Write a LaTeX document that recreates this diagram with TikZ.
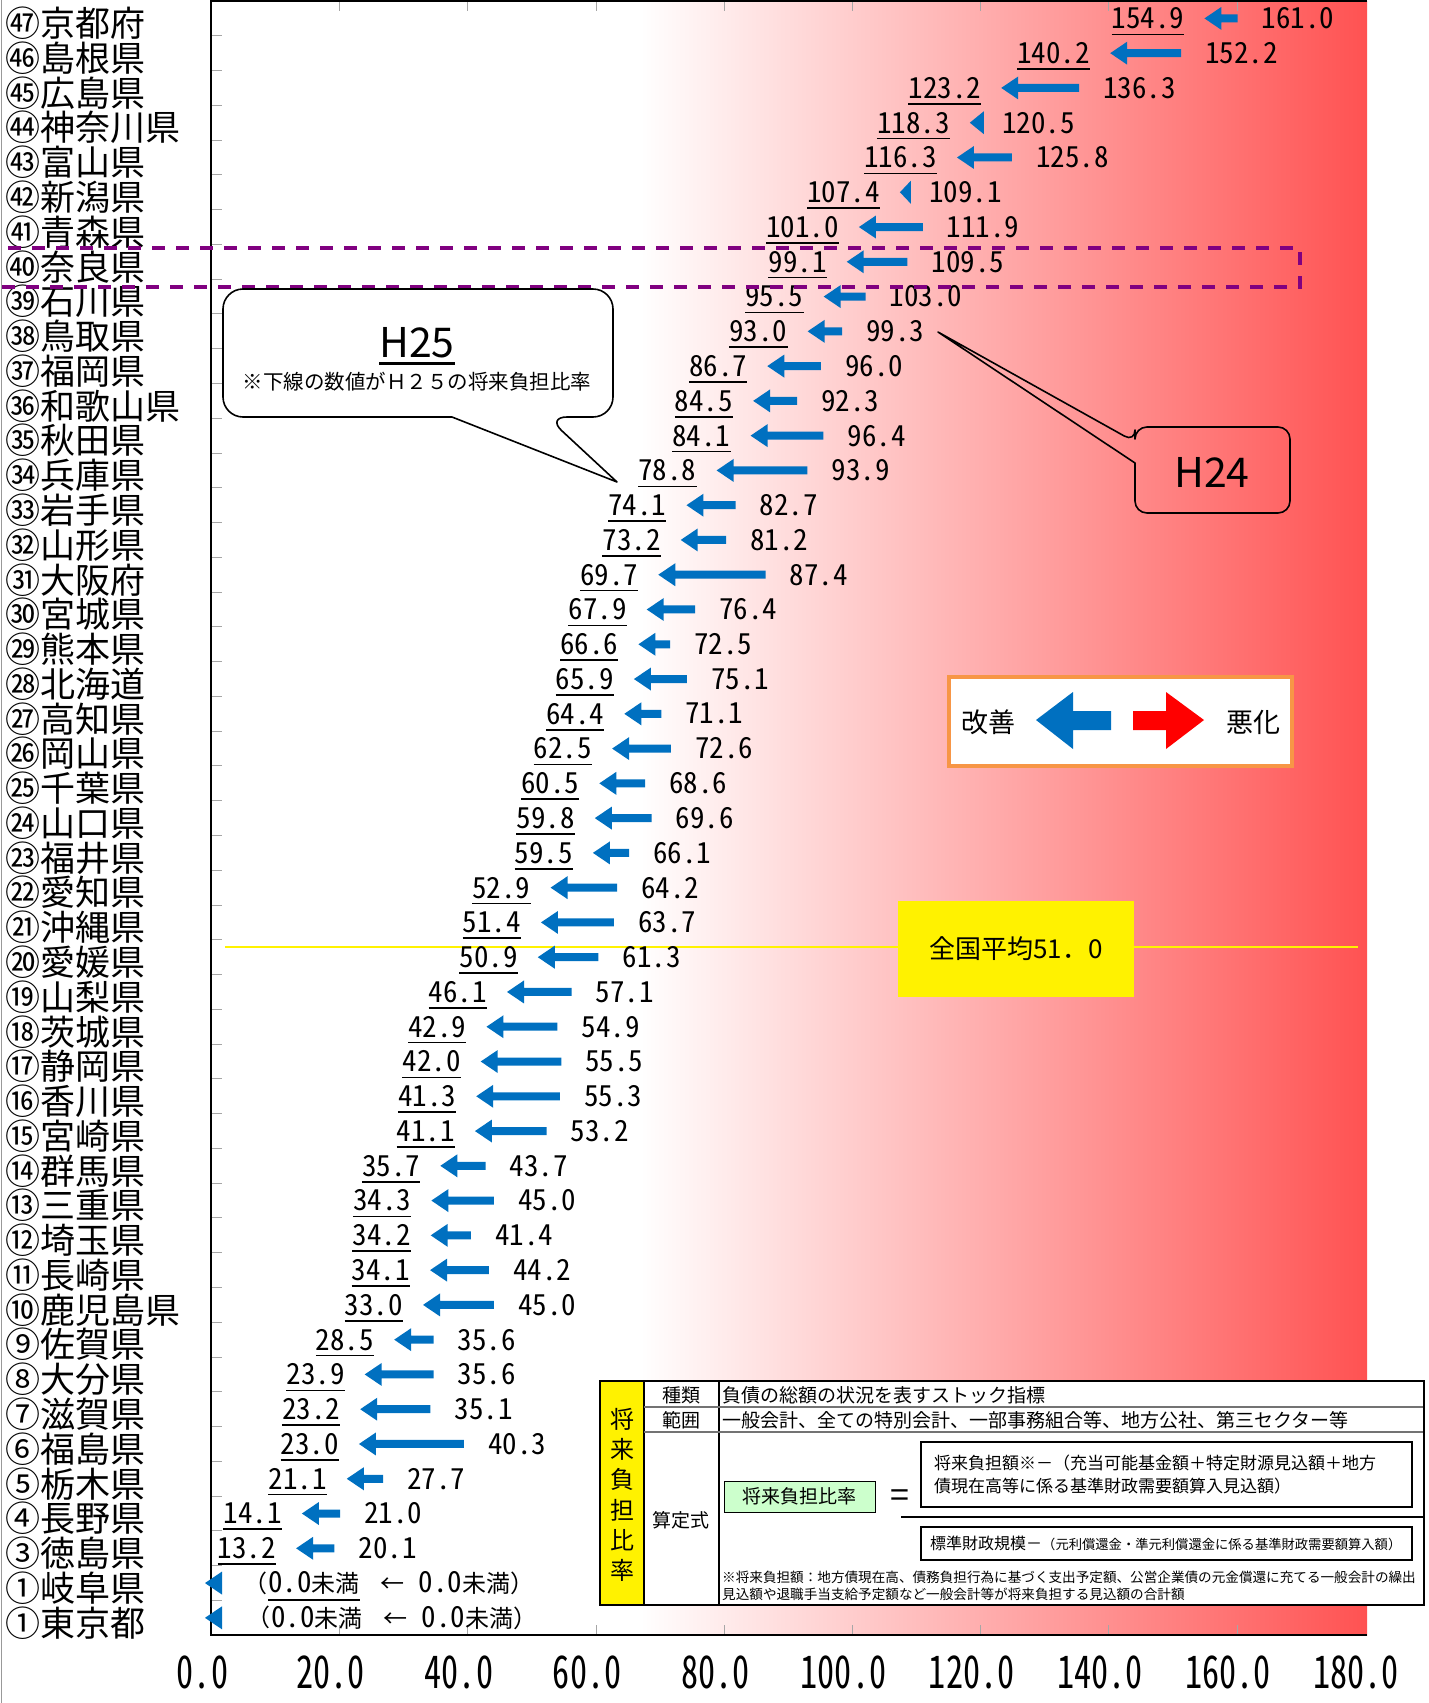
\documentclass[tikz,border=0pt]{standalone}
\usepackage{fontspec}
\setmainfont{Noto Sans CJK JP}
\newfontfamily\numfont[RawFeature=+hwid]{Noto Sans CJK JP}
\newfontfamily\axfont[RawFeature=+hwid, FakeStretch=0.76]{Noto Sans CJK JP}

\definecolor{arrblue}{RGB}{0,112,192}
\definecolor{barred}{RGB}{255,82,82}
\definecolor{hlpurple}{RGB}{128,0,128}
\definecolor{lgorange}{RGB}{247,150,70}
\definecolor{fgreen}{RGB}{204,255,204}

% tip x, tail x, y
\newcommand\leftarr[3]{%
  \pgfmathsetmacro\hx{min(#1+17,#2)}
  \fill[arrblue] (#1,#3) -- (\hx,#3-11.5) -- (\hx,#3-4) -- (#2,#3-4) -- (#2,#3+4) -- (\hx,#3+4) -- (\hx,#3+11.5) -- cycle;}

\begin{document}
\begin{tikzpicture}[x=1pt, y=-1pt,
    pref/.style={anchor=west, inner sep=0pt, font=\fontsize{35}{35}\selectfont},
    newval/.style={inner sep=0pt, font={\numfont\fontsize{29}{29}\selectfont}},
    oldval/.style={inner sep=0pt, font={\numfont\fontsize{29}{29}\selectfont}},
    uline/.style={line width=1.6pt},
    tickc/.style={black!35, line width=1pt},
    tbtxt/.style={inner sep=0pt, font=\fontsize{19}{19}\selectfont},
    callout/.style={line width=1.6pt, line join=round}]

    \useasboundingbox (0,0) rectangle (1429,1703);
    \draw[black!40, line width=1pt] (1,0) -- (1,1703);

    % plot area
    \shade[left color=white, right color=barred] (640,1) rectangle (1367,1635);
    \foreach \k in {1, 2, ..., 46} {
        \draw[tickc] (211,{1+34.77*\k}) -- (222,{1+34.77*\k});
    }
    \foreach \k in {1, 2, ..., 8} {
        \draw[tickc] ({211.5+128.2*\k},1) -- ({211.5+128.2*\k},11);
        \draw[tickc] ({211.5+128.2*\k},1635) -- ({211.5+128.2*\k},1625);
    }
    \draw[line width=1.4pt] (1367,1) -- (211,1) -- (211,1635) -- (1367,1635);
    \foreach \v [count=\k from 0] in {0.0, 20.0, 40.0, 60.0, 80.0, 100.0, 120.0, 140.0, 160.0, 180.0} {
        \node[inner sep=0pt, font={\axfont\fontsize{45}{45}\selectfont}] (ax\k) at ({202.5+128.2*\k},1672) {\v};
    }

    \draw[yellow, line width=2.5pt] (225,947) -- (1358,947);

    \foreach \nm/\a/\b [count=\i from 0] in {㊼京都府/154.9/161.0, ㊻島根県/140.2/152.2, ㊺広島県/123.2/136.3,
        ㊹神奈川県/118.3/120.5, ㊸富山県/116.3/125.8, ㊷新潟県/107.4/109.1, ㊶青森県/101.0/111.9,
        ㊵奈良県/99.1/109.5, ㊴石川県/95.5/103.0, ㊳鳥取県/93.0/99.3, ㊲福岡県/86.7/96.0,
        ㊱和歌山県/84.5/92.3, ㉟秋田県/84.1/96.4, ㉞兵庫県/78.8/93.9, ㉝岩手県/74.1/82.7,
        ㉜山形県/73.2/81.2, ㉛大阪府/69.7/87.4, ㉚宮城県/67.9/76.4, ㉙熊本県/66.6/72.5,
        ㉘北海道/65.9/75.1, ㉗高知県/64.4/71.1, ㉖岡山県/62.5/72.6, ㉕千葉県/60.5/68.6,
        ㉔山口県/59.8/69.6, ㉓福井県/59.5/66.1, ㉒愛知県/52.9/64.2, ㉑沖縄県/51.4/63.7,
        ⑳愛媛県/50.9/61.3, ⑲山梨県/46.1/57.1, ⑱茨城県/42.9/54.9, ⑰静岡県/42.0/55.5,
        ⑯香川県/41.3/55.3, ⑮宮崎県/41.1/53.2, ⑭群馬県/35.7/43.7, ⑬三重県/34.3/45.0,
        ⑫埼玉県/34.2/41.4, ⑪長崎県/34.1/44.2, ⑩鹿児島県/33.0/45.0, ⑨佐賀県/28.5/35.6,
        ⑧大分県/23.9/35.6, ⑦滋賀県/23.2/35.1, ⑥福島県/23.0/40.3, ⑤栃木県/21.1/27.7,
        ④長野県/14.1/21.0, ③徳島県/13.2/20.1} {
        \pgfmathsetmacro\yy{18.4+34.77*\i}
        \pgfmathsetmacro\xa{211.5+6.41*\a}
        \pgfmathsetmacro\xb{211.5+6.41*\b}
        \pgfmathsetmacro\xt{(\xb-\xa>30) ? \xb-6 : \xb}
        \node[pref] (pf\i) at (5,{\yy+5}) {\nm};
        \leftarr{\xa}{\xt}{\yy}
        \node[newval, anchor=east] (h\i) at ({\xa-20},\yy) {\a};
        \draw[uline] ([yshift=-5pt]h\i.south west) -- ([yshift=-5pt]h\i.south east);
        \node[oldval, anchor=west] (g\i) at ({\xb+18},\yy) {\b};
    }
    \foreach \nm/\i/\dx in {①岐阜県/45/0, ①東京都/46/3} {
        \pgfmathsetmacro\yy{18.4+34.77*\i}
        \node[pref] (pf\i) at (5,{\yy+5}) {\nm};
        \leftarr{205}{222}{\yy}
        \node[oldval, anchor=east] (q\i) at (268+\dx,\yy) {{\rmfamily\fontsize{24}{24}\selectfont （}};
        \node[newval, anchor=west] (h\i) at (268+\dx,\yy) {0.0{\rmfamily\fontsize{24}{24}\selectfont 未満}};
        \draw[uline] ([yshift=-5pt]h\i.south west) -- ([yshift=-5pt]h\i.south east);
        \node[oldval, anchor=west] (g\i) at (380+\dx,\yy) {{\rmfamily\fontsize{24}{24}\selectfont ←}\ 0.0{\rmfamily\fontsize{24}{24}\selectfont 未満）}};
    }

    \draw[hlpurple, line width=3.5pt, dash pattern=on 13pt off 11pt] (8,248) -- (1300,248) -- (1300,287) -- (0,287);

    % callouts
    \filldraw[callout, fill=white] (452,417) [rounded corners=20pt] -- (223,417) -- (223,289) -- (613,289) -- (613,417) -- (547,417) [sharp corners] -- (617,482) -- cycle;
    \node[inner sep=0pt, font=\fontsize{41}{41}\selectfont] (h25) at (417,343) {H25};
    \draw[line width=3pt] ([yshift=-5pt]h25.south west) -- ([yshift=-5pt]h25.south east);
    \node[inner sep=0pt, font=\fontsize{20.5}{20.5}\selectfont] (h25n) at (417,382) {※下線の数値がＨ２５の将来負担比率};
    \draw[callout] (1135,463) [rounded corners=12pt] -- (1135,513) -- (1290,513) -- (1290,427) -- (1135,427) -- (1135,442) [sharp corners] -- (938,332) -- cycle;
    \node[inner sep=0pt, font=\fontsize{41}{41}\selectfont] (h24) at (1212,472) {H24};

    % legend
    \node[draw=lgorange, line width=4pt, fill=white, minimum width=343pt, minimum height=89pt] (lgd) at (1120.5,721.5) {};
    \node[inner sep=0pt, font=\fontsize{27}{27}\selectfont] (kz) at (988,722) {改善};
    \node[inner sep=0pt, font=\fontsize{27}{27}\selectfont] (ak) at (1253,722) {悪化};
    \fill[arrblue] (1036,720) -- (1073,692) -- (1073,711) -- (1111,711) -- (1111,730) -- (1073,730) -- (1073,749) -- cycle;
    \fill[red] (1204,720) -- (1166,692) -- (1166,711) -- (1133,711) -- (1133,730) -- (1166,730) -- (1166,749) -- cycle;

    \node[fill=yellow, minimum width=236pt, minimum height=96pt, font=\fontsize{26}{26}\selectfont] (avg) at (1016,949) {全国平均51．0};

    % table
    \fill[white] (600,1381) rectangle (1424,1605);
    \fill[yellow] (600,1381) rectangle (644,1605);
    \draw[line width=1.4pt] (644,1381) -- (644,1605) (719,1381) -- (719,1605);
    \draw[black!55, line width=2.5pt] (644,1407) -- (1424,1407) (644,1432) -- (1424,1432);
    \draw[line width=2.5pt] (600,1381) rectangle (1424,1605);
    \foreach \c [count=\k from 0] in {将, 来, 負, 担, 比, 率} {
        \node[tbtxt, font=\fontsize{24}{24}\selectfont] (v\k) at (622,{1419+30.3*\k}) {\c};
    }
    \node[tbtxt] (t1) at (681,1395) {種類};
    \node[tbtxt] (t2) at (681,1420) {範囲};
    \node[tbtxt] (t3) at (681,1520) {算定式};
    \node[tbtxt, anchor=west] (d1) at (722,1395) {負債の総額の状況を表すストック指標};
    \node[tbtxt, anchor=west] (d2) at (722,1420) {一般会計、全ての特別会計、一部事務組合等、地方公社、第三セクター等};
    \node[draw, line width=1pt, fill=fgreen, minimum width=151pt, minimum height=31pt, font=\fontsize{19}{19}\selectfont] (ratio) at (799.5,1496.5) {将来負担比率};
    \node[inner sep=0pt, font=\fontsize{34}{34}\selectfont] (eq) at (900,1499) {=};
    \draw[line width=1.2pt] (921,1442) rectangle (1412,1507);
    \node[tbtxt, anchor=west, font=\fontsize{17}{17}\selectfont] (nm1) at (934,1463) {将来負担額※－（充当可能基金額＋特定財源見込額＋地方};
    \node[tbtxt, anchor=west, font=\fontsize{17}{17}\selectfont] (nm2) at (934,1486) {債現在高等に係る基準財政需要額算入見込額）};
    \draw[line width=1.5pt] (901,1517) -- (1423,1517);
    \draw[line width=1.2pt] (921,1527) rectangle (1412,1560);
    \node[tbtxt, anchor=west] (dn) at (930,1543) {{\fontsize{16}{16}\selectfont 標準財政規模－}{\fontsize{13.3}{13.3}\selectfont （元利償還金・準元利償還金に係る基準財政需要額算入額）}};
    \node[tbtxt, anchor=west, font=\fontsize{13.6}{13.6}\selectfont] (f1) at (722,1577) {※将来負担額：地方債現在高、債務負担行為に基づく支出予定額、公営企業債の元金償還に充てる一般会計の繰出};
    \node[tbtxt, anchor=west, font=\fontsize{13.6}{13.6}\selectfont] (f2) at (722,1594) {見込額や退職手当支給予定額など一般会計等が将来負担する見込額の合計額};
\end{tikzpicture}
\end{document}
